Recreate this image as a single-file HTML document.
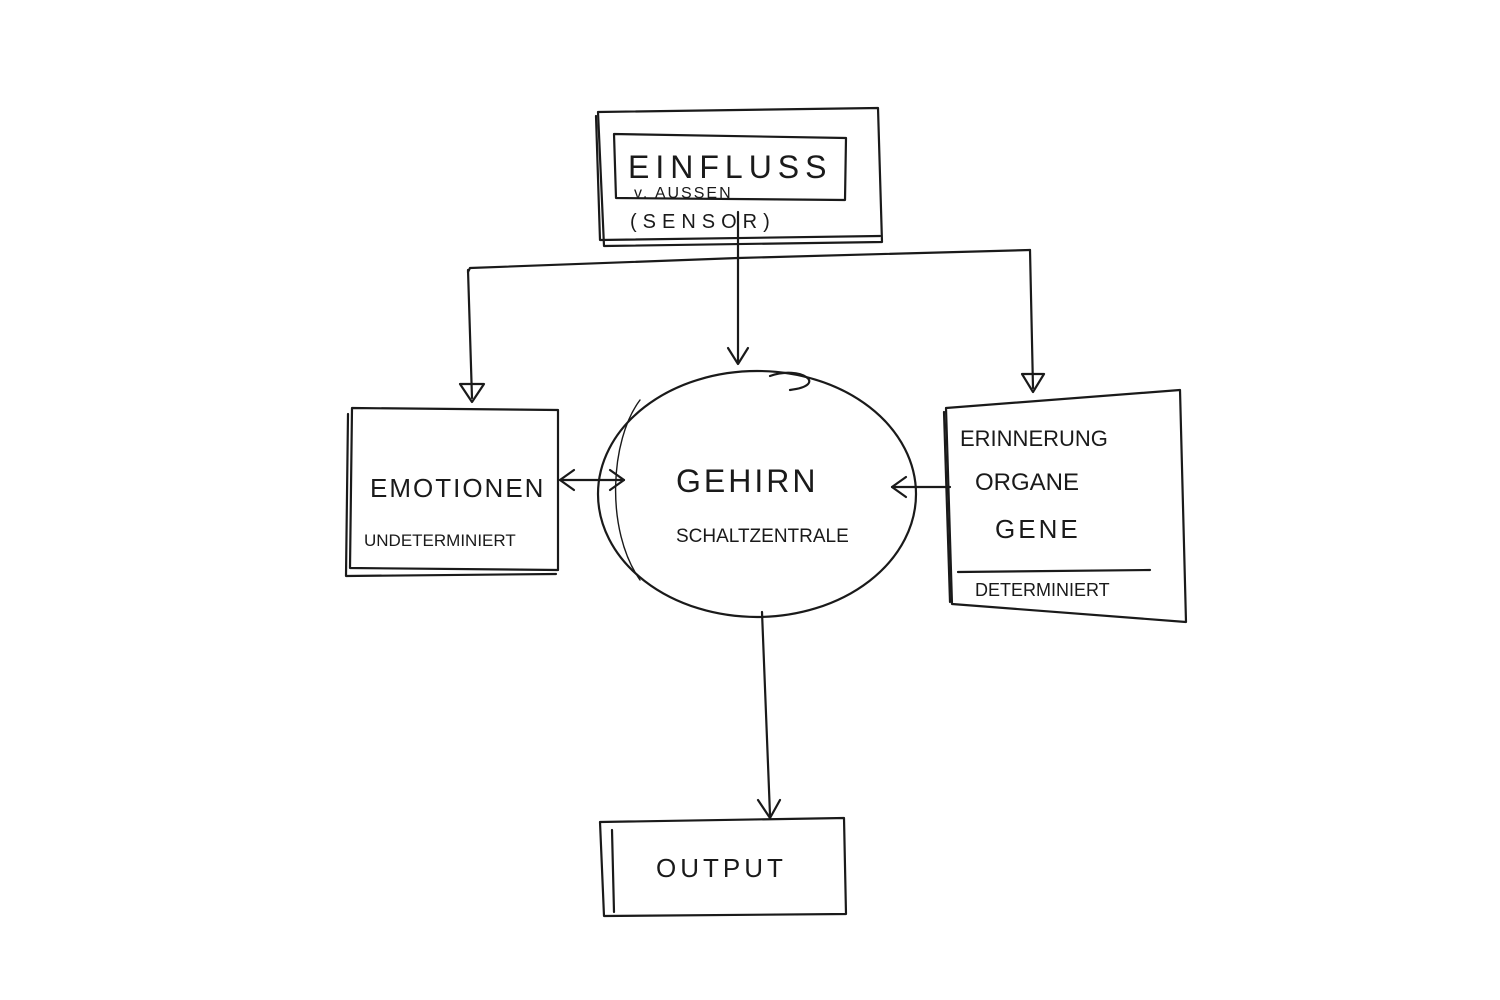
<!DOCTYPE html>
<html><head><meta charset="utf-8"><style>
html,body{margin:0;padding:0;background:#fff;}
svg{display:block}
text{font-family:"Liberation Sans",sans-serif;fill:#1a1a1a;}
</style></head><body>
<svg width="1500" height="1000" viewBox="0 0 1500 1000" xmlns="http://www.w3.org/2000/svg">
<rect width="1500" height="1000" fill="#fff"/>
<g fill="none" stroke="#1a1a1a" stroke-width="2.2" stroke-linecap="round" stroke-linejoin="round">
<!-- top box -->
<path d="M598 112 L878 108 L882 242 L604 246 Z"/>
<path d="M596 116 L600 240 L880 236"/>
<path d="M614 134 L846 138 L845 200 L616 198 Z"/>
<!-- connectors from top -->
<path d="M738 212 L738 362"/>
<path d="M728 348 L738 364 L748 348"/>
<path d="M468 272 L470 268 L738 258 L1030 250"/>
<path d="M468 270 L472 398"/>
<path d="M460 384 L472 402 L484 384 Z"/>
<path d="M1030 250 L1033 388"/>
<path d="M1022 374 L1033 392 L1044 374 Z"/>
<!-- left box -->
<path d="M352 408 L558 410 L558 570 L350 568 Z"/>
<path d="M348 414 L346 576 L556 574"/>
<!-- double arrow -->
<path d="M560 480 L624 480"/>
<path d="M574 470 L560 480 L574 490"/>
<path d="M610 470 L624 480 L610 490"/>
<!-- circle -->
<ellipse cx="757" cy="494" rx="159" ry="123"/>
<path d="M770 376 C 800 365, 830 385, 790 390"/>
<path d="M640 400 C 610 440, 605 530, 640 580" stroke-width="1.4"/>
<!-- right box -->
<path d="M946 408 L1180 390 L1186 622 L952 604 Z"/>
<path d="M944 412 L950 602"/>
<path d="M958 572 L1150 570"/>
<!-- arrow from right -->
<path d="M950 487 L892 487"/>
<path d="M906 477 L892 487 L906 497"/>
<!-- down arrow -->
<path d="M762 612 L770 815"/>
<path d="M758 800 L770 818 L780 800"/>
<!-- output box -->
<path d="M600 822 L844 818 L846 914 L604 916 Z"/>
<path d="M612 830 L614 912"/>
</g>
<text x="628" y="178" font-size="32" letter-spacing="6">EINFLUSS</text>
<text x="634" y="198" font-size="16" letter-spacing="2">v. AUSSEN</text>
<text x="630" y="228" font-size="20" letter-spacing="6">(SENSOR)</text>
<text x="370" y="497" font-size="26" letter-spacing="2">EMOTIONEN</text>
<text x="364" y="546" font-size="17">UNDETERMINIERT</text>
<text x="676" y="492" font-size="32" letter-spacing="3">GEHIRN</text>
<text x="676" y="542" font-size="19">SCHALTZENTRALE</text>
<text x="960" y="446" font-size="22">ERINNERUNG</text>
<text x="975" y="490" font-size="24">ORGANE</text>
<text x="995" y="538" font-size="26" letter-spacing="3">GENE</text>
<text x="975" y="596" font-size="18">DETERMINIERT</text>
<text x="656" y="877" font-size="26" letter-spacing="4">OUTPUT</text>
</svg>
</body></html>
